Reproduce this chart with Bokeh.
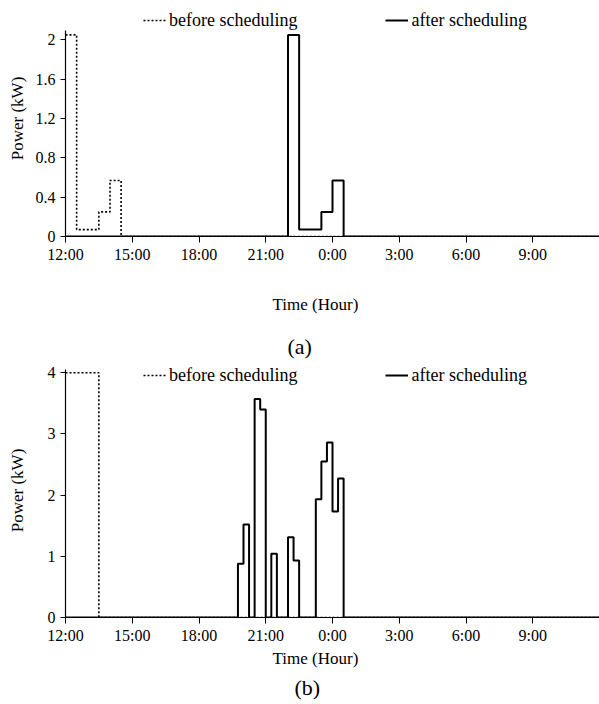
from bokeh.plotting import figure
from bokeh.models import Range1d, FixedTicker, PrintfTickFormatter, Legend, LegendItem, Title
from bokeh.layouts import column
from bokeh.embed import file_html
from bokeh.resources import INLINE

FONT = "Liberation Serif"

# x axis: hours after 12:00
hour_ticks = [0, 3, 6, 9, 12, 15, 18, 21]
hour_labels = ["12:00", "15:00", "18:00", "21:00", "0:00", "3:00", "6:00", "9:00"]

# (a) step breakpoints: start hour of each interval and its power (kW)
a_before_t = [0, 0.5, 1.5, 2.0, 2.5, 24]
a_before_p = [2.05, 0.07, 0.25, 0.57, 0.0, 0.0]
a_after_t = [0, 10.0, 10.5, 11.5, 12.0, 12.5, 24]
a_after_p = [0.0, 2.05, 0.07, 0.25, 0.57, 0.0, 0.0]
a_yticks = [0, 0.4, 0.8, 1.2, 1.6, 2.0]

# (b)
b_before_t = [0, 1.5, 24]
b_before_p = [4.0, 0.0, 0.0]
b_after_t = [0, 7.75, 8.0, 8.25, 8.5, 8.75, 9.0, 9.25, 9.5, 10.0, 10.25, 10.5,
             11.25, 11.5, 11.75, 12.0, 12.25, 12.5, 24]
b_after_p = [0.0, 0.88, 1.52, 0.0, 3.57, 3.40, 0.0, 1.04, 0.0, 1.31, 0.93, 0.0,
             1.93, 2.55, 2.86, 1.73, 2.27, 0.0, 0.0]
b_yticks = [0, 1, 2, 3, 4]

series_names = ["before scheduling", "after scheduling"]
x_title = "Time (Hour)"
y_title = "Power (kW)"


def make_panel(bt, bp, at, ap, yticks, yaxis_top, ymax, caption, caption_offset,
               height, mb_top, mb_bottom, legend_y, xtitle_standoff, cap_standoff,
               ylabel_standoff, xgap):
    p = figure(width=599, height=height, output_backend="svg", toolbar_location=None,
               x_range=Range1d(0, 24), y_range=Range1d(0, ymax),
               min_border_left=65, min_border_right=0,
               min_border_top=mb_top, min_border_bottom=mb_bottom)
    p.outline_line_color = None
    p.xgrid.visible = False
    p.ygrid.visible = False
    p.background_fill_color = "white"
    p.border_fill_color = "white"

    r_before = p.step(bt, bp, mode="after", line_color="black", line_width=1.6,
                      line_dash="2 2")
    r_after = p.step(at, ap, mode="after", line_color="black", line_width=2)

    xa = p.xaxis[0]
    xa.ticker = FixedTicker(ticks=hour_ticks)
    xa.major_label_overrides = {t: l for t, l in zip(hour_ticks, hour_labels)}
    xa.minor_tick_line_color = None
    xa.major_tick_in = 0
    xa.major_tick_out = 6
    xa.major_label_standoff = 3
    if xgap:
        # empty spacer below the tick labels
        xa.axis_label = " "
        xa.axis_label_standoff = xgap
    ya = p.yaxis[0]
    ya.ticker = FixedTicker(ticks=yticks)
    ya.bounds = (0, yaxis_top)
    ya.formatter = PrintfTickFormatter(format="%g")
    ya.minor_tick_line_color = None
    ya.major_tick_in = 0
    ya.major_tick_out = 5
    ya.major_label_standoff = 5
    ya.axis_label = y_title
    ya.axis_label_standoff = ylabel_standoff
    for ax in (xa, ya):
        ax.axis_line_color = "black"
        ax.axis_line_width = 1.2
        ax.major_tick_line_color = "black"
        ax.major_label_text_font = FONT
        ax.major_label_text_font_size = "16px"
        ax.major_label_text_color = "black"
        ax.axis_label_text_font = FONT
        ax.axis_label_text_font_size = "17px"
        ax.axis_label_text_font_style = "normal"
        ax.axis_label_text_color = "black"
    xa.axis_label_text_font_size = "1px"

    legend = Legend(items=[LegendItem(label=series_names[0], renderers=[r_before]),
                           LegendItem(label=series_names[1], renderers=[r_after])],
                    orientation="horizontal", location=(78, legend_y))
    legend.border_line_color = None
    legend.background_fill_alpha = 0
    legend.padding = 0
    legend.margin = 0
    legend.spacing = 88
    legend.glyph_width = 23
    legend.glyph_height = 24
    legend.label_height = 24
    legend.label_standoff = 3
    legend.label_text_font = FONT
    legend.label_text_font_size = "18px"
    legend.label_text_color = "black"
    p.add_layout(legend)

    t1 = Title(text=x_title, align="left", offset=207, text_font=FONT,
               text_font_size="17px", text_font_style="normal", text_color="black",
               standoff=xtitle_standoff)
    p.add_layout(t1, "below")
    t2 = Title(text=caption, align="left", offset=caption_offset, text_font=FONT,
               text_font_size="22px", text_font_style="normal", text_color="black",
               standoff=cap_standoff)
    p.add_layout(t2, "below")
    return p


pa = make_panel(a_before_t, a_before_p, a_after_t, a_after_p, a_yticks, 2.1, 2.4,
                "(a)", 222, height=362, mb_top=0, mb_bottom=126, legend_y=204,
                xtitle_standoff=35, cap_standoff=0, ylabel_standoff=6, xgap=6)
pb = make_panel(b_before_t, b_before_p, b_after_t, b_after_p, b_yticks, 4.05, 4.15,
                "(b)", 229, height=342, mb_top=1, mb_bottom=87, legend_y=230,
                xtitle_standoff=0, cap_standoff=10, ylabel_standoff=18, xgap=0)

layout = column(pa, pb, spacing=0)
open("out.html", "w").write(file_html(layout, INLINE))
